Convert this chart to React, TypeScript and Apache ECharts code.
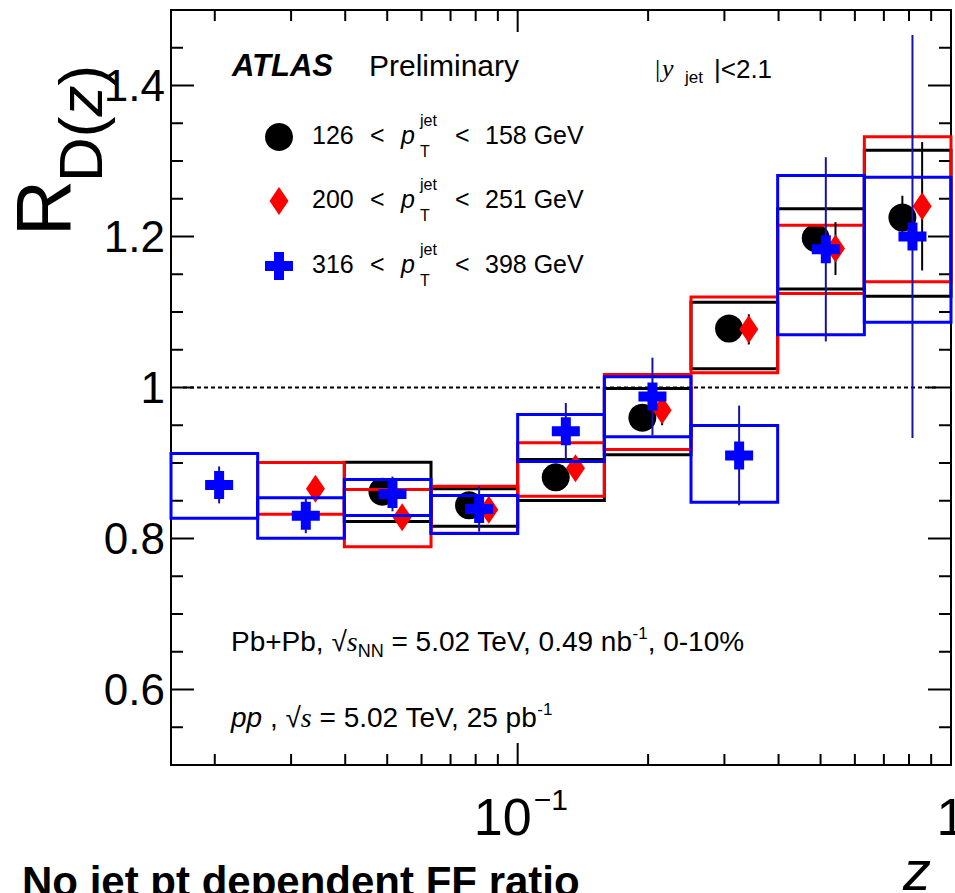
import React, { useEffect, useRef } from "react";
import * as echarts from "echarts";

// ---------------- data ----------------
const X_MIN = Math.pow(10, -1.8);
const X_MAX = 1;
const Y_MIN = 0.5;
const Y_MAX = 1.5;

const BIN_EDGES = [0.01585, 0.02512, 0.03981, 0.0631, 0.1, 0.1585, 0.2512, 0.3981, 0.631, 1.0];
const BIN_CENTERS = [0.01995, 0.03162, 0.05012, 0.07943, 0.1259, 0.1995, 0.3162, 0.5012, 0.7943];

// 126 < pT < 158 GeV (black)
const BLACK_VAL = [null, null, 0.862, 0.844, 0.881, 0.96, 1.078, 1.198, 1.225];
const BLACK_STAT = [null, null, 0.012, 0.012, 0.013, 0.015, 0.015, 0.018, 0.029];
const BLACK_SYS_LO = [null, null, 0.8225, 0.8163, 0.8503, 0.9109, 1.0248, 1.1303, 1.1209];
const BLACK_SYS_HI = [null, null, 0.9011, 0.8658, 0.9046, 0.9987, 1.113, 1.2366, 1.3143];

// 200 < pT < 251 GeV (red)
const RED_VAL = [null, 0.866, 0.828, 0.838, 0.893, 0.97, 1.077, 1.184, 1.24];
const RED_STAT = [null, 0.012, 0.012, 0.012, 0.014, 0.02, 0.02, 0.035, 0.085];
const RED_SYS_LO = [null, 0.8322, 0.789, 0.807, 0.856, 0.9179, 1.0195, 1.1245, 1.14];
const RED_SYS_HI = [null, 0.9007, 0.865, 0.8693, 0.9267, 1.0172, 1.12, 1.215, 1.332];

// 316 < pT < 398 GeV (blue)
const BLUE_VAL = [0.871, 0.83, 0.859, 0.839, 0.942, 0.988, 0.91, 1.183, 1.2];
const BLUE_STAT = [0.0245, 0.023, 0.023, 0.03, 0.0375, 0.0515, 0.066, 0.122, 0.267];
const BLUE_SYS_LO = [0.8269, 0.8004, 0.8305, 0.8066, 0.902, 0.9347, 0.848, 1.0698, 1.0865];
const BLUE_SYS_HI = [0.9126, 0.8539, 0.8781, 0.857, 0.9642, 1.0141, 0.9497, 1.2808, 1.2786];

// axis ticks / labels
const Y_MAJOR = [0.6, 0.8, 1.0, 1.2, 1.4];
const Y_LABELS = ["0.6", "0.8", "1", "1.2", "1.4"];
const Y_MINOR = [0.55, 0.65, 0.7, 0.75, 0.85, 0.9, 0.95, 1.05, 1.1, 1.15, 1.25, 1.3, 1.35, 1.45];
const X_MAJOR = [0.1, 1];
const X_LABEL_BASE = ["10", "1"];
const X_LABEL_EXP = ["\u22121", ""];
const X_MINOR = [0.02, 0.03, 0.04, 0.05, 0.06, 0.07, 0.08, 0.09, 0.2, 0.3, 0.4, 0.5, 0.6, 0.7, 0.8, 0.9];

const LEGEND_LO = ["126", "200", "316"];
const LEGEND_HI = ["158 GeV", "251 GeV", "398 GeV"];

// ---------------- style ----------------
const SANS = "'Liberation Sans', Arial, Helvetica, sans-serif";
const SERIF = "'Liberation Serif', 'Times New Roman', serif";
const MARKER_SHIFT = { black: 0.9723, blue: 1.0259, red: 1.08 };
const BLUE_ERR = "#1414a0";
const CROSS = "path://M9,0H19V9H28V19H19V28H9V19H0V9H9Z";

let _ctx: CanvasRenderingContext2D | null = null;
function textWidth(text: string, font: string): number {
  if (!_ctx) _ctx = document.createElement("canvas").getContext("2d");
  if (!_ctx) return text.length * 10;
  _ctx.font = font;
  return _ctx.measureText(text).width;
}

type Opt = { italic?: boolean; bold?: boolean; family?: string; align?: string };
function txt(x: number, base: number, text: string, size: number, o: Opt = {}) {
  const align = o.align || "left";
  return {
    type: "text",
    x,
    y: base - 0.35 * size,
    silent: true,
    style: {
      text,
      fontSize: size,
      fontFamily: o.family || SANS,
      fontStyle: o.italic ? "italic" : "normal",
      fontWeight: o.bold ? "bold" : "normal",
      fill: "#000",
      align,
      verticalAlign: "middle",
      textAlign: align,
      textVerticalAlign: "middle",
    },
  };
}

type Seg = { t: string; size: number; italic?: boolean; bold?: boolean; family?: string; rise?: number };
function inline(x: number, base: number, segs: Seg[]) {
  const out: any[] = [];
  let cx = x;
  for (const s of segs) {
    const fam = s.family || SANS;
    out.push(txt(cx, base - (s.rise || 0), s.t, s.size, { italic: s.italic, bold: s.bold, family: fam }));
    const font = `${s.italic ? "italic " : ""}${s.bold ? "bold " : ""}${s.size}px ${fam}`;
    cx += textWidth(s.t, font);
  }
  return out;
}

function boxData(lo: (number | null)[], hi: (number | null)[]) {
  const d: number[][] = [];
  lo.forEach((l, i) => {
    if (l != null && hi[i] != null) d.push([BIN_EDGES[i], BIN_EDGES[i + 1], l as number, hi[i] as number]);
  });
  return d;
}
function errData(val: (number | null)[], stat: (number | null)[], shift: number) {
  const d: number[][] = [];
  val.forEach((v, i) => {
    if (v != null && stat[i] != null) d.push([BIN_CENTERS[i] * shift, v - (stat[i] as number), v + (stat[i] as number)]);
  });
  return d;
}
function pointData(val: (number | null)[], shift: number) {
  const d: number[][] = [];
  val.forEach((v, i) => {
    if (v != null) d.push([BIN_CENTERS[i] * shift, v]);
  });
  return d;
}

function boxSeries(data: number[][], color: string, z: number) {
  return {
    type: "custom",
    z,
    silent: true,
    data,
    renderItem: (params: any, api: any) => {
      const p1 = api.coord([api.value(0), api.value(3)]);
      const p2 = api.coord([api.value(1), api.value(2)]);
      return {
        type: "rect",
        shape: { x: p1[0], y: p1[1], width: p2[0] - p1[0], height: p2[1] - p1[1] },
        style: { fill: "none", stroke: color, lineWidth: 3 },
      };
    },
  };
}
function errSeries(data: number[][], color: string, z: number) {
  return {
    type: "custom",
    z,
    silent: true,
    data,
    renderItem: (params: any, api: any) => {
      const a = api.coord([api.value(0), api.value(2)]);
      const b = api.coord([api.value(0), api.value(1)]);
      return {
        type: "line",
        shape: { x1: a[0], y1: a[1], x2: b[0], y2: b[1] },
        style: { stroke: color, lineWidth: 2 },
      };
    },
  };
}

const tickLine = (x1: number, y1: number, x2: number, y2: number) => ({
  type: "line",
  shape: { x1, y1, x2, y2 },
  style: { stroke: "#000", lineWidth: 2 },
});

export default function App() {
  const ref = useRef<HTMLDivElement>(null);

  useEffect(() => {
    if (!ref.current) return;
    const chart = echarts.init(ref.current, undefined, { renderer: "svg" });

    const series: any[] = [
      // dashed unity line
      {
        type: "custom",
        z: 1,
        silent: true,
        data: [[1, 1]],
        renderItem: (params: any, api: any) => {
          const cs = params.coordSys;
          const p = api.coord([1, api.value(1)]);
          return {
            type: "line",
            shape: { x1: cs.x + 12, y1: p[1], x2: cs.x + cs.width - 12, y2: p[1] },
            style: { stroke: "#000", lineWidth: 1.8, lineDash: [4, 3] },
          };
        },
      },
      // y major ticks + labels
      {
        type: "custom",
        z: 1,
        silent: true,
        data: Y_MAJOR.map((v, i) => [0.1, v, i]),
        renderItem: (params: any, api: any) => {
          const cs = params.coordSys;
          const y = api.coord([0.1, api.value(1)])[1];
          return {
            type: "group",
            children: [
              tickLine(cs.x, y, cs.x + 23, y),
              tickLine(cs.x + cs.width, y, cs.x + cs.width - 23, y),
              txt(cs.x - 6, y + 0.35 * 44, Y_LABELS[api.value(2)], 44, { align: "right" }),
            ],
          };
        },
      },
      // y minor ticks
      {
        type: "custom",
        z: 1,
        silent: true,
        data: Y_MINOR.map((v) => [0.1, v]),
        renderItem: (params: any, api: any) => {
          const cs = params.coordSys;
          const y = api.coord([0.1, api.value(1)])[1];
          return {
            type: "group",
            children: [tickLine(cs.x, y, cs.x + 12, y), tickLine(cs.x + cs.width, y, cs.x + cs.width - 12, y)],
          };
        },
      },
      // x major ticks + labels
      {
        type: "custom",
        z: 1,
        silent: true,
        data: X_MAJOR.map((v, i) => [v, 1, i]),
        renderItem: (params: any, api: any) => {
          const cs = params.coordSys;
          const x = api.coord([api.value(0), 1])[0];
          const i = api.value(2);
          const yb = cs.y + cs.height;
          const children: any[] = [tickLine(x, yb, x, yb - 22), tickLine(x, cs.y, x, cs.y + 22)];
          if (X_LABEL_EXP[i]) {
            children.push(txt(x + 14, 835, X_LABEL_BASE[i], 52, { align: "right" }));
            children.push(txt(x + 16, 810, X_LABEL_EXP[i], 30, { align: "left" }));
          } else {
            children.push(txt(x, 835, X_LABEL_BASE[i], 52, { align: "center" }));
          }
          return { type: "group", children };
        },
      },
      // x minor ticks
      {
        type: "custom",
        z: 1,
        silent: true,
        data: X_MINOR.map((v) => [v, 1]),
        renderItem: (params: any, api: any) => {
          const cs = params.coordSys;
          const x = api.coord([api.value(0), 1])[0];
          const yb = cs.y + cs.height;
          return {
            type: "group",
            children: [tickLine(x, yb, x, yb - 11), tickLine(x, cs.y, x, cs.y + 11)],
          };
        },
      },
      // black series
      boxSeries(boxData(BLACK_SYS_LO, BLACK_SYS_HI), "#000000", 2),
      errSeries(errData(BLACK_VAL, BLACK_STAT, MARKER_SHIFT.black), "#000000", 3),
      {
        type: "scatter",
        z: 4,
        silent: true,
        symbol: "circle",
        symbolSize: 28,
        itemStyle: { color: "#000000", opacity: 1 },
        data: pointData(BLACK_VAL, MARKER_SHIFT.black),
      },
      // red series
      boxSeries(boxData(RED_SYS_LO, RED_SYS_HI), "#ff0000", 5),
      errSeries(errData(RED_VAL, RED_STAT, MARKER_SHIFT.red), "#000000", 6),
      {
        type: "scatter",
        z: 7,
        silent: true,
        symbol: "diamond",
        symbolSize: [19, 28],
        itemStyle: { color: "#ff0000", opacity: 1 },
        data: pointData(RED_VAL, MARKER_SHIFT.red),
      },
      // blue series
      boxSeries(boxData(BLUE_SYS_LO, BLUE_SYS_HI), "#0000ff", 8),
      errSeries(errData(BLUE_VAL, BLUE_STAT, MARKER_SHIFT.blue), BLUE_ERR, 9),
      {
        type: "scatter",
        z: 10,
        silent: true,
        symbol: CROSS,
        symbolSize: [28, 28],
        itemStyle: { color: "#0000ff", opacity: 1 },
        data: pointData(BLUE_VAL, MARKER_SHIFT.blue),
      },
    ];

    // ---------- annotations ----------
    const g: any[] = [];
    g.push(txt(232, 76, "ATLAS", 31, { bold: true, italic: true }));
    g.push(txt(369, 76, "Preliminary", 30));

    g.push(txt(655, 78, "|", 26, { family: SERIF }));
    g.push(txt(662, 78, "y", 26, { family: SERIF, italic: true }));
    g.push(txt(685, 83, "jet", 17));
    g.push(txt(714, 78, "|<2.1", 26));

    const rowY = [137, 201, 266];
    const colors = ["#000000", "#ff0000", "#0000ff"];
    rowY.forEach((cy, i) => {
      const cx = 279;
      if (i === 0) g.push({ type: "circle", silent: true, shape: { cx, cy, r: 14 }, style: { fill: colors[0] } });
      if (i === 1)
        g.push({
          type: "polygon",
          silent: true,
          shape: { points: [[cx, cy - 14], [cx + 9.5, cy], [cx, cy + 14], [cx - 9.5, cy]] },
          style: { fill: colors[1] },
        });
      if (i === 2)
        g.push({
          type: "polygon",
          silent: true,
          shape: {
            points: [
              [cx - 5, cy - 14], [cx + 5, cy - 14], [cx + 5, cy - 5], [cx + 14, cy - 5], [cx + 14, cy + 5], [cx + 5, cy + 5],
              [cx + 5, cy + 14], [cx - 5, cy + 14], [cx - 5, cy + 5], [cx - 14, cy + 5], [cx - 14, cy - 5], [cx - 5, cy - 5],
            ],
          },
          style: { fill: colors[2] },
        });
      const b = cy + 7;
      g.push(txt(312, b, LEGEND_LO[i], 25));
      g.push(txt(370, b, "<", 25));
      g.push(txt(401, b, "p", 25, { italic: true }));
      g.push(txt(420, b - 18, "jet", 16));
      g.push(txt(420, b + 13, "T", 16));
      g.push(txt(455, b, "<", 25));
      g.push(txt(485, b, LEGEND_HI[i], 25));
    });

    g.push(
      ...inline(231, 651, [
        { t: "Pb+Pb, ", size: 28 },
        { t: "\u221A", size: 28 },
        { t: "s", size: 28, italic: true, family: SERIF },
        { t: "NN", size: 18, rise: -6 },
        { t: " = 5.02 TeV, 0.49 nb", size: 28 },
        { t: "-1", size: 17, rise: 12 },
        { t: ", 0-10%", size: 28 },
      ])
    );
    g.push(
      ...inline(231, 727, [
        { t: "pp", size: 28, italic: true },
        { t: " , ", size: 28 },
        { t: "\u221A", size: 28 },
        { t: "s", size: 28, italic: true, family: SERIF },
        { t: " = 5.02 TeV, 25 pb", size: 28 },
        { t: "-1", size: 17, rise: 12 },
      ])
    );

    // axis titles
    g.push({
      type: "text",
      x: 43,
      y: 208,
      rotation: Math.PI / 2,
      silent: true,
      style: {
        text: "R",
        fontSize: 78,
        fontFamily: SANS,
        fill: "#000",
        align: "center",
        verticalAlign: "middle",
        textAlign: "center",
        textVerticalAlign: "middle",
      },
    });
    g.push({
      type: "text",
      x: 80,
      y: 182,
      rotation: Math.PI / 2,
      silent: true,
      style: {
        text: "{a|D(}{b|z}{a|)}",
        fill: "#000",
        align: "left",
        verticalAlign: "middle",
        textAlign: "left",
        textVerticalAlign: "middle",
        rich: {
          a: { fontSize: 62, fontFamily: SANS, fill: "#000" },
          b: { fontSize: 62, fontFamily: SANS, fontStyle: "italic", fill: "#000" },
        },
      },
    });
    g.push(txt(903, 890, "z", 56, { italic: true }));
    g.push(txt(22, 896, "No jet pt dependent FF ratio", 42, { bold: true }));

    chart.setOption({
      animation: false,
      backgroundColor: "#ffffff",
      grid: {
        left: 171,
        top: 10,
        width: 780,
        height: 755,
        show: true,
        borderColor: "#000",
        borderWidth: 2,
        backgroundColor: "transparent",
        containLabel: false,
      },
      xAxis: {
        type: "log",
        logBase: 10,
        min: X_MIN,
        max: X_MAX,
        axisLine: { show: false },
        axisTick: { show: false },
        axisLabel: { show: false },
        splitLine: { show: false },
      },
      yAxis: {
        type: "value",
        min: Y_MIN,
        max: Y_MAX,
        axisLine: { show: false },
        axisTick: { show: false },
        axisLabel: { show: false },
        splitLine: { show: false },
      },
      series,
      graphic: { elements: g },
    });

    return () => chart.dispose();
  }, []);

  return (
    <div
      ref={ref}
      style={{ position: "absolute", left: 0, top: 0, width: 955, height: 893, background: "#fff" }}
    />
  );
}
